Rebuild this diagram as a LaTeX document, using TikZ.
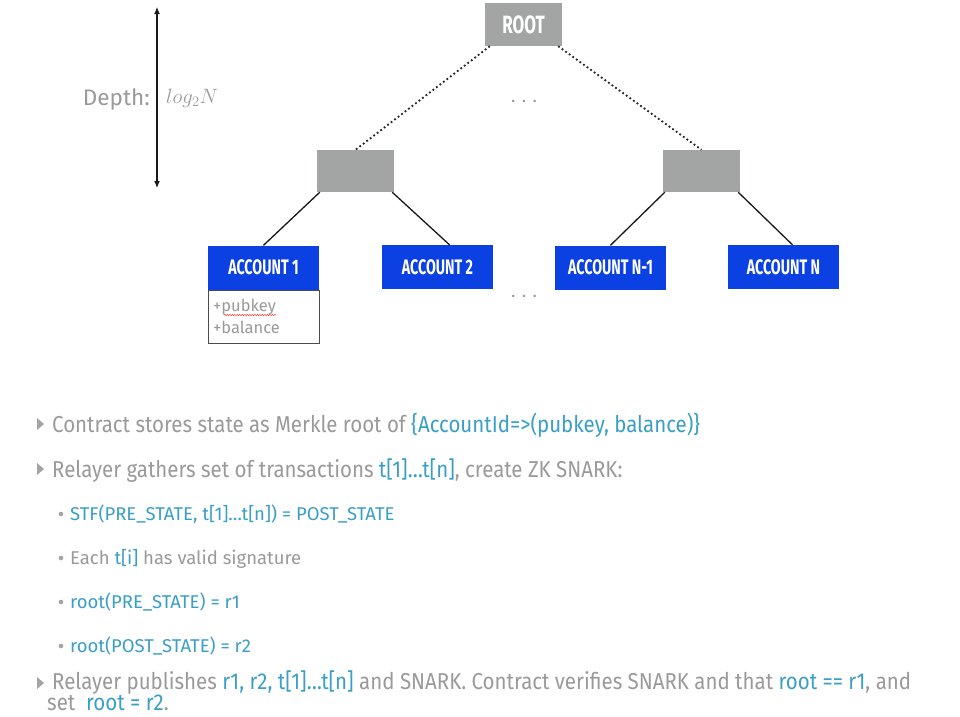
\documentclass[tikz,border=0pt]{standalone}
\usepackage{fontspec}
\setmainfont{Fira Sans}
\newfontfamily\cond[FakeStretch=0.89]{Fira Sans}
\newfontfamily\accfont[FakeStretch=0.68]{Fira Sans}
\newfontfamily\plainfont{Fira Sans}
\usetikzlibrary{calc,decorations.pathmorphing,arrows.meta}
\definecolor{boxgray}{HTML}{A3A5A4}
\definecolor{accblue}{HTML}{0B40E2}
\definecolor{txtgray}{HTML}{9A9A9A}
\definecolor{hl}{HTML}{3A9FC6}
\tikzset{
  x=1pt,y=-1pt,
  graybox/.style={fill=boxgray,draw=none,minimum width=77pt,minimum height=42pt,inner sep=0pt},
  accbox/.style={fill=accblue,draw=none,minimum width=111pt,minimum height=44pt,inner sep=0pt,text=white,font=\accfont\bfseries\fontsize{21}{21}\selectfont},
  dotline/.style={draw=black!85,line width=1.8pt,dash pattern=on 1.8pt off 2.6pt},
  solidline/.style={draw=black!90,line width=1.3pt},
  bodytxt/.style={anchor=base west,inner sep=0pt,text=txtgray,font=\cond\fontsize{23}{24}\selectfont},
  subtxt/.style={anchor=base west,inner sep=0pt,text=txtgray,font=\plainfont\fontsize{18.5}{20}\selectfont},
  tri/.style={fill=txtgray!90,draw=none},
  dotbul/.style={fill=txtgray!90,draw=none}
}
\newcommand{\hlt}[1]{\textcolor{hl}{#1}}
\begin{document}
\begin{tikzpicture}
\useasboundingbox (0,0) rectangle (960,716);
\clip (0,0) rectangle (960,716);
\fill[white] (0,0) rectangle (960,716);

% tree nodes
\node[graybox,minimum height=43pt] (root) at (523.5,24.5) {\accfont\bfseries\fontsize{25}{25}\selectfont\textcolor{white}{ROOT}};
\node[graybox] (left) at (355.5,171) {};
\node[graybox] (right) at (701.5,171) {};
\node[accbox] (acc1) at (263.5,267.5) {ACCOUNT 1};
\node[accbox] (acc2) at (437.5,267) {ACCOUNT 2};
\node[accbox] (accn1) at (610.5,267.5) {ACCOUNT N-1};
\node[accbox] (accn) at (783.5,267) {ACCOUNT N};
\node[draw=black!70,line width=0.6pt,minimum width=111pt,minimum height=53pt,inner sep=0pt,anchor=north] (fields) at (acc1.south) {};
\node[anchor=base west,inner sep=0pt,text=txtgray,font=\plainfont\fontsize{16.5}{17}\selectfont] (pk) at (213,311) {+pubkey};
\node[anchor=base west,inner sep=0pt,text=txtgray,font=\plainfont\fontsize{16.5}{17}\selectfont] (bal) at (213,333) {+balance};
\draw[red!75,line width=0.5pt,decorate,decoration={snake,amplitude=0.7pt,segment length=2.5pt}] ($(pk.base west)+(11,4)$) -- ($(pk.base east)+(0,4)$);

\node[text=txtgray,font=\fontsize{18}{18}\selectfont,inner sep=0pt] (dots1) at (524,101) {. . .};
\node[text=txtgray,font=\fontsize{18}{18}\selectfont,inner sep=0pt] (dots2) at (524,296) {. . .};

% connectors
\draw[dotline] ($(root.south west)+(5,0)$) -- (left.north);
\draw[dotline] ($(root.south east)+(-4,0)$) -- (right.north);
\draw[solidline] ($(left.south west)+(3,0)$) -- (acc1.north);
\draw[solidline] ($(left.south east)+(-2,0)$) -- ($(acc2.north)+(12,0)$);
\draw[solidline] ($(right.south west)+(2,0)$) -- (accn1.north);
\draw[solidline] ($(right.south east)+(-2,0)$) -- ($(accn.north)+(9,0)$);

% depth arrow
\coordinate (dtop) at (157,7);
\coordinate (dbot) at (157,188);
\draw[line width=1.1pt,black!90,{Latex[length=7pt,width=6pt]}-{Latex[length=7pt,width=6pt]}] (dtop) -- (dbot);
\node[anchor=east,inner sep=0pt,text=txtgray,font=\plainfont\fontsize{22.5}{23}\selectfont] (depth) at (150,99) {Depth:};
\node[anchor=west,inner sep=0pt,text=txtgray,font=\fontsize{20}{20}\selectfont] (log) at (166,98) {$log_2N$};

% bullets
\fill[tri] (37,418) -- (44,424) -- (37,430) -- cycle;
\node[bodytxt] (b1) at (52,432) {Contract stores state as Merkle root of \hlt{\{AccountId=>(pubkey, balance)\}}};
\fill[tri] (37,463) -- (44,469) -- (37,475) -- cycle;
\node[bodytxt] (b2) at (52,477) {Relayer gathers set of transactions \hlt{t[1]\ldots t[n]}, create ZK SNARK:};

\fill[dotbul] (61,514) circle (2.3);
\node[subtxt] (s1) at (70,520) {\hlt{STF(PRE\_STATE, t[1]\ldots t[n]) = POST\_STATE}};
\fill[dotbul] (61,558) circle (2.3);
\node[subtxt] (s2) at (70,564) {Each \hlt{t[i]} has valid signature};
\fill[dotbul] (61,602) circle (2.3);
\node[subtxt] (s3) at (70,608) {\hlt{root(PRE\_STATE) = r1}};
\fill[dotbul] (61,646) circle (2.3);
\node[subtxt] (s4) at (70,652) {\hlt{root(POST\_STATE) = r2}};

\fill[tri] (37,677) -- (44,683) -- (37,689) -- cycle;
\node[anchor=south west,inner sep=0pt,align=left,text=txtgray,font=\cond\fontsize{23}{20.5}\selectfont] (b3) at (47,711) {\hspace*{5pt}Relayer publishes \hlt{r1, r2, t[1]\ldots t[n]} and SNARK. Contract verifies SNARK and that \hlt{root == r1}, and\\set \ \hlt{root = r2}.};
\end{tikzpicture}
\end{document}
